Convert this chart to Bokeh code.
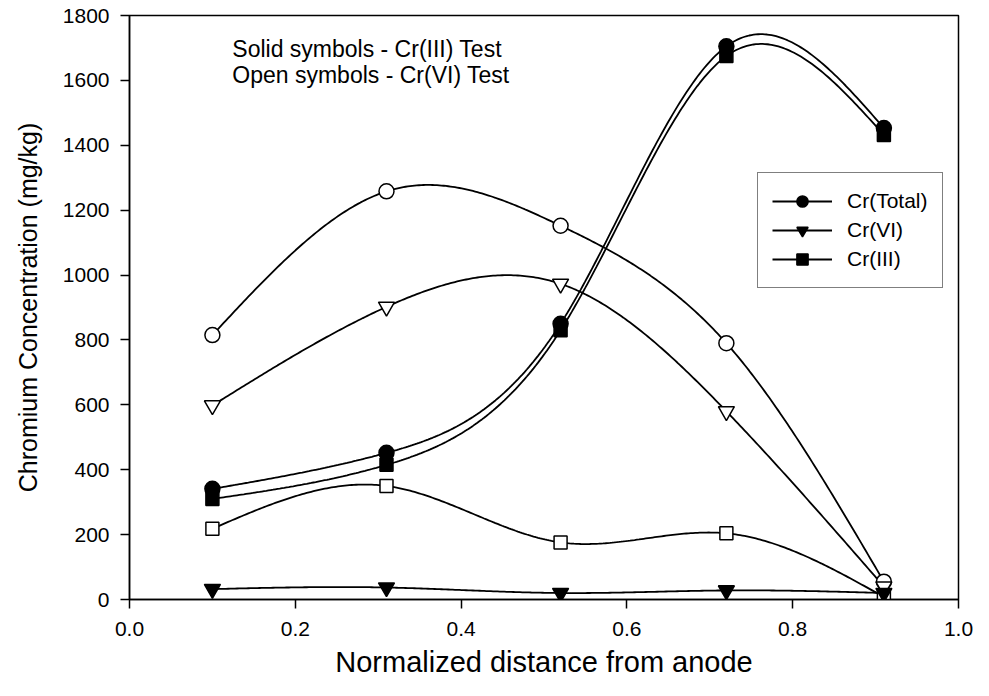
import numpy as np
from bokeh.plotting import figure
from bokeh.models import FixedTicker, Label, Range1d
from bokeh.embed import file_html
from bokeh.resources import INLINE

# ---- data ----
distance = [0.10, 0.31, 0.52, 0.72, 0.91]

# Cr(III) test (solid symbols)
total_solid = [341, 452, 850, 1705, 1453]
cr6_solid = [32, 37, 20, 28, 20]
cr3_solid = [310, 415, 830, 1675, 1432]

# Cr(VI) test (open symbols)
total_open = [815, 1258, 1152, 790, 55]
cr6_open = [598, 902, 973, 580, 40]
cr3_open = [218, 350, 176, 204, 8]

x_ticks = [0.0, 0.2, 0.4, 0.6, 0.8, 1.0]
y_ticks = [0, 200, 400, 600, 800, 1000, 1200, 1400, 1600, 1800]

FONT = "Liberation Sans"


def natural_spline(x, y, n=300):
    x = np.asarray(x, float)
    y = np.asarray(y, float)
    m = len(x)
    h = np.diff(x)
    A = np.zeros((m, m))
    b = np.zeros(m)
    A[0, 0] = 1.0
    A[-1, -1] = 1.0
    for i in range(1, m - 1):
        A[i, i - 1] = h[i - 1]
        A[i, i] = 2 * (h[i - 1] + h[i])
        A[i, i + 1] = h[i]
        b[i] = 6 * ((y[i + 1] - y[i]) / h[i] - (y[i] - y[i - 1]) / h[i - 1])
    M = np.linalg.solve(A, b)
    xs = np.linspace(x[0], x[-1], n)
    ys = np.empty_like(xs)
    for k, t in enumerate(xs):
        i = min(np.searchsorted(x, t, side="right") - 1, m - 2)
        i = max(i, 0)
        dx1 = x[i + 1] - t
        dx0 = t - x[i]
        hi = h[i]
        ys[k] = (M[i] * dx1 ** 3 / (6 * hi) + M[i + 1] * dx0 ** 3 / (6 * hi)
                 + (y[i] / hi - M[i] * hi / 6) * dx1
                 + (y[i + 1] / hi - M[i + 1] * hi / 6) * dx0)
    return xs, ys


p = figure(width=973, height=680, output_backend="svg", toolbar_location=None,
           x_range=Range1d(0, 1), y_range=Range1d(0, 1800),
           min_border_left=129, min_border_right=15, min_border_top=15,
           min_border_bottom=81)

p.xgrid.visible = False
p.ygrid.visible = False
p.outline_line_color = "black"
p.outline_line_width = 1.5
p.background_fill_color = "white"
p.border_fill_color = "white"

LW = 1.8

series = [
    (total_open, "circle", 15, "white", None),
    (cr6_open, "inverted_triangle", 16, "white", None),
    (cr3_open, "square", 13, "white", None),
    (total_solid, "circle", 15, "black", "Cr(Total)"),
    (cr6_solid, "inverted_triangle", 16, "black", "Cr(VI)"),
    (cr3_solid, "square", 13, "black", "Cr(III)"),
]

for vals, marker, size, fill, label in series:
    xs, ys = natural_spline(distance, vals)
    kw = {"legend_label": label} if label else {}
    p.line(xs, ys, line_color="black", line_width=LW, **kw)

for vals, marker, size, fill, label in series:
    kw = {"legend_label": label} if label else {}
    p.scatter(distance, vals, marker=marker, size=size, fill_color=fill,
              line_color="black", line_width=1.5, **kw)

# axes
for ax in (p.xaxis[0], p.yaxis[0]):
    ax.axis_line_color = "black"
    ax.axis_line_width = 1.5
    ax.major_tick_line_color = "black"
    ax.major_tick_line_width = 1.5
    ax.major_tick_out = 9
    ax.major_tick_in = 0
    ax.minor_tick_line_color = None
    ax.major_label_text_font = FONT
    ax.major_label_text_font_size = "21px"
    ax.major_label_text_color = "black"
    ax.axis_label_text_font = FONT
    ax.axis_label_text_font_style = "normal"
    ax.axis_label_text_color = "black"

p.xaxis.ticker = FixedTicker(ticks=x_ticks)
p.yaxis.ticker = FixedTicker(ticks=y_ticks)
p.xaxis.major_label_overrides = {t: f"{t:.1f}" for t in x_ticks}
p.xaxis.major_label_standoff = 13
p.yaxis.major_label_standoff = 11
p.xaxis.axis_label = "Normalized distance from anode"
p.xaxis.axis_label_text_font_size = "29px"
p.xaxis.axis_label_standoff = 7
p.yaxis.axis_label = "Chromium Concentration (mg/kg)"
p.yaxis.axis_label_text_font_size = "25px"
p.yaxis.axis_label_standoff = 18

# annotations
p.add_layout(Label(x=0.124, y=1697, text="Solid symbols - Cr(III) Test",
                   text_font=FONT, text_font_size="23px", text_color="black",
                   text_baseline="alphabetic"))
p.add_layout(Label(x=0.124, y=1617, text="Open symbols - Cr(VI) Test",
                   text_font=FONT, text_font_size="23px", text_color="black",
                   text_baseline="alphabetic"))

# legend
lg = p.legend[0]
lg.location = (628, 311)
lg.border_line_color = "black"
lg.border_line_width = 1.2
lg.background_fill_color = "white"
lg.background_fill_alpha = 1.0
lg.label_text_font = FONT
lg.label_text_font_size = "21px"
lg.label_text_color = "black"
lg.glyph_width = 60
lg.glyph_height = 28
lg.label_height = 28
lg.label_standoff = 15
lg.spacing = 1
lg.padding = 14
lg.margin = 0

open("out.html", "w").write(file_html(p, INLINE))
